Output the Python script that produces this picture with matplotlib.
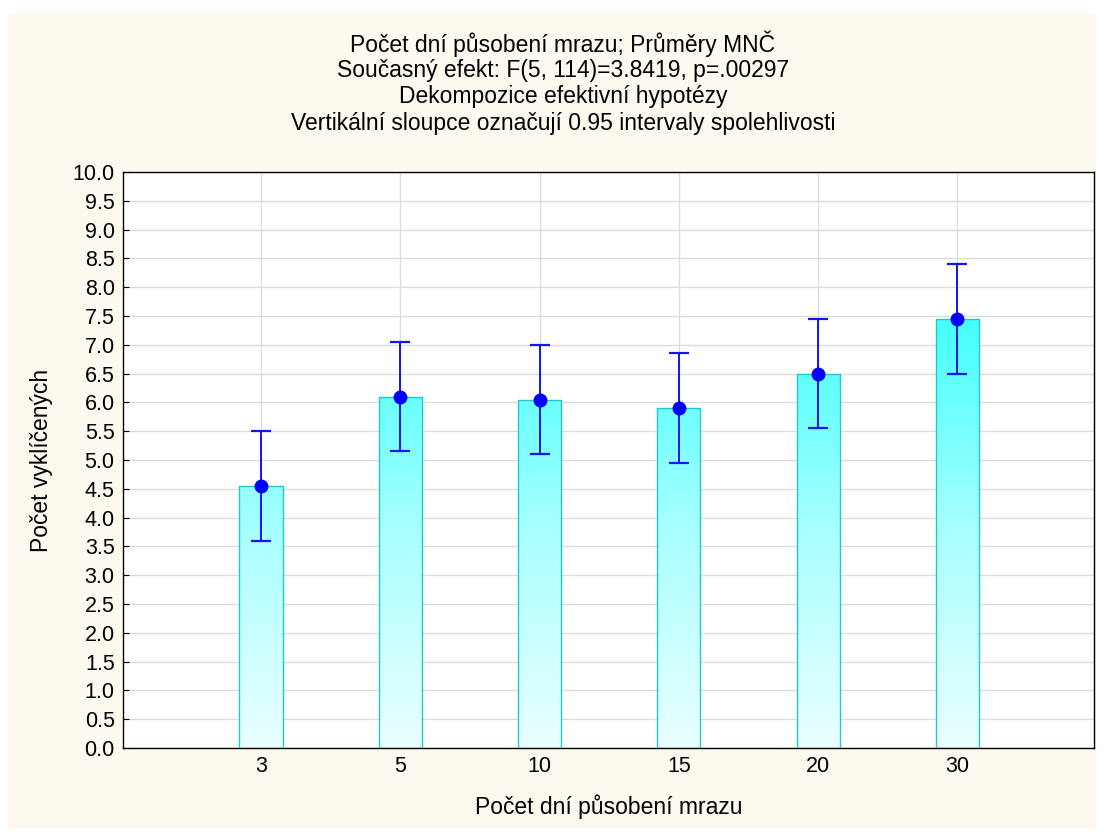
import numpy as np
import matplotlib.pyplot as plt
from matplotlib.patches import Rectangle
from matplotlib.colors import LinearSegmentedColormap

plt.rcParams['font.family'] = ['Liberation Sans', 'DejaVu Sans']

# Mean number of germinated seeds per frost duration, with 0.95 confidence limits
days = ['3', '5', '10', '15', '20', '30']
means = [4.55, 6.10, 6.05, 5.90, 6.50, 7.45]
lower = [3.60, 5.15, 5.10, 4.95, 5.55, 6.50]
upper = [5.50, 7.05, 7.00, 6.85, 7.45, 8.40]

title_lines = [
    'Počet dní působení mrazu; Průměry MNČ',
    'Současný efekt: F(5, 114)=3.8419, p=.00297',
    'Dekompozice efektivní hypotézy',
    'Vertikální sloupce označují 0.95 intervaly spolehlivosti',
]

fig = plt.figure(figsize=(11.04, 8.35), dpi=100)
fig.patch.set_facecolor('white')
fig.patches.append(Rectangle((8 / 1104, 7 / 835), 1088 / 1104, 815 / 835,
                             transform=fig.transFigure, facecolor='#FEF9EF',
                             edgecolor='none', zorder=-5))

ax = fig.add_axes([123 / 1104, 87 / 835, 971 / 1104, 576 / 835])
ax.set_zorder(2)
ax.set_facecolor('white')

x = np.arange(len(days))
width = 0.31

# cyan gradient, pale at the base and saturated higher up
cmap = LinearSegmentedColormap.from_list('cyan_fade', ['#EAFFFF', '#A8FFFF', '#40FFFF'])
grad = np.linspace(0, 1, 256).reshape(-1, 1)

for xi, m in zip(x, means):
    rect = Rectangle((xi - width / 2, 0), width, m, facecolor='none',
                     edgecolor='#22C8C8', linewidth=1.0, zorder=3)
    ax.add_patch(rect)
    img = ax.imshow(grad[:int(256 * m / 7.6) + 1], cmap=cmap, vmin=0, vmax=1,
                    origin='lower', aspect='auto',
                    extent=(xi - width / 2, xi + width / 2, 0, m), zorder=2)
    img.set_clip_path(rect)

err = [np.array(means) - np.array(lower), np.array(upper) - np.array(means)]
ax.errorbar(x, means, yerr=err, fmt='o', color='#0000FF', ecolor='#1414F0',
            markersize=9, elinewidth=1.4, capsize=7, capthick=1.6, zorder=5)

ax.set_xlim(-0.99, 5.98)
ax.set_ylim(0, 10)
ax.set_xticks(x)
ax.set_xticklabels(days)
ax.set_yticks(np.arange(0, 10.01, 0.5))
ax.set_yticklabels([f'{v:.1f}' for v in np.arange(0, 10.01, 0.5)])
ax.grid(True, color='#DCDCDC', linewidth=1.0, zorder=0)
ax.set_axisbelow(True)
ax.tick_params(direction='in', length=4, labelsize=15.5, pad=6)
for side in ax.spines.values():
    side.set_linewidth(1.0)
    side.set_color('black')

ax.set_xlabel('Počet dní působení mrazu', fontsize=16.5, labelpad=12)
ax.set_ylabel('Počet vyklíčených', fontsize=16.5, labelpad=14)

for i, line in enumerate(title_lines):
    fig.text(563 / 1104, 1 - (44 + 26.5 * i) / 835, line, ha='center',
             va='center', fontsize=16.5)

fig.savefig('out.png', dpi=100)
